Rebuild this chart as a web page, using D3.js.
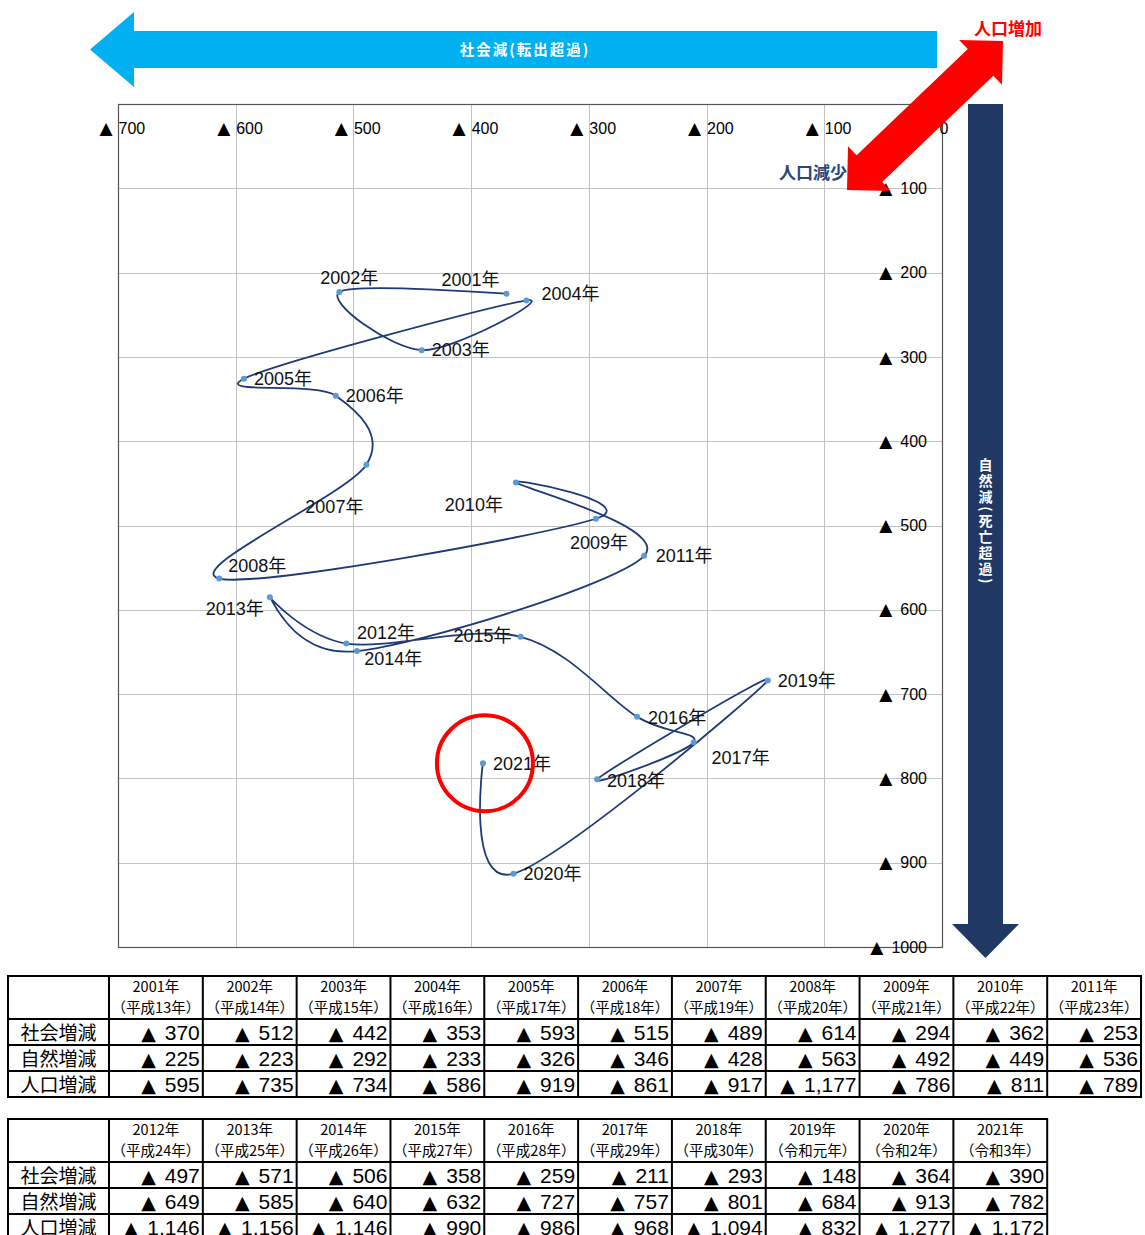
<!DOCTYPE html>
<html>
<head>
<meta charset="utf-8">
<script src="https://cdn.jsdelivr.net/npm/d3@7"></script>
<style>
  body { margin: 0; background: #fff; }
  svg { display: block; }
</style>
</head>
<body>
<svg id="chart" width="1145" height="1235"></svg>
<script>
// 年次
const years = ["2001","2002","2003","2004","2005","2006","2007","2008","2009","2010","2011",
               "2012","2013","2014","2015","2016","2017","2018","2019","2020","2021"];
// 和暦
const eras = ["平成13年","平成14年","平成15年","平成16年","平成17年","平成18年","平成19年",
              "平成20年","平成21年","平成22年","平成23年","平成24年","平成25年","平成26年",
              "平成27年","平成28年","平成29年","平成30年","令和元年","令和2年","令和3年"];
// 社会増減（転出超過数, ▲表記）
const socialChange  = [370,512,442,353,593,515,489,614,294,362,253,497,571,506,358,259,211,293,148,364,390];
// 自然増減（死亡超過数, ▲表記）
const naturalChange = [225,223,292,233,326,346,428,563,492,449,536,649,585,640,632,727,757,801,684,913,782];
// 人口増減
const totalChange   = [595,735,734,586,919,861,917,1177,786,811,789,1146,1156,1146,990,986,968,1094,832,1277,1172];

const xTickValues = [0,100,200,300,400,500,600,700];
const yTickValues = [0,100,200,300,400,500,600,700,800,900,1000];
const rowNames = ["社会増減","自然増減","人口増減"];

// 年ラベルの点からのずれ (dx, dy)
const tagOffsets = [[-36,-14],[10,-14],[39,0],[44,-7],[39,0],[39,0],[-32,42],[38,-13],[3,24],[-42,22],
                    [40,0],[29,-18],[-35,12],[47,15],[-38,-1],[40,1],[47,16],[39,1],[39,0],[39,0],[39,0]];

const svg = d3.select("#chart");
svg.append("rect").attr("width", 1145).attr("height", 1235).attr("fill", "#fff");

const plot = { left: 118, right: 942, top: 104, bottom: 947 };
const x = d3.scaleLinear().domain([0, 700]).range([plot.right, plot.left]);
const y = d3.scaleLinear().domain([0, 1000]).range([plot.top, plot.bottom]);

const latin = "'Liberation Sans', Arial, 'Noto Sans CJK JP', sans-serif";
const cjk = "'Noto Sans CJK JP', 'Liberation Sans', sans-serif";
const mark = "'DejaVu Sans', sans-serif";

// ▲ を別書体で描き、数字との間を空ける
function splitTriangle(sel, markSize, gap) {
  sel.each(function() {
    const t = d3.select(this);
    const s = t.text();
    if (s.startsWith("▲")) {
      t.text(null);
      t.append("tspan").attr("font-family", mark).attr("font-size", markSize).text("▲");
      t.append("tspan").attr("dx", gap).text(s.slice(1).trim());
    }
  });
}

// グリッド
const grid = svg.append("g").attr("stroke", "#c3c3c3").attr("stroke-width", 1);
grid.selectAll("line.v").data(xTickValues.filter(d => d > 0 && d < 700)).join("line")
  .attr("x1", d => Math.round(x(d)) + 0.5).attr("x2", d => Math.round(x(d)) + 0.5)
  .attr("y1", plot.top).attr("y2", plot.bottom);
grid.selectAll("line.h").data(yTickValues.filter(d => d > 0 && d < 1000)).join("line")
  .attr("y1", d => Math.round(y(d)) + 0.5).attr("y2", d => Math.round(y(d)) + 0.5)
  .attr("x1", plot.left).attr("x2", plot.right);

// 枠
svg.append("rect")
  .attr("x", plot.left + 0.5).attr("y", plot.top + 0.5)
  .attr("width", plot.right - plot.left).attr("height", plot.bottom - plot.top)
  .attr("fill", "none").attr("stroke", "#555").attr("stroke-width", 1.2);

const fmtTick = d => d === 0 ? "0" : "▲ " + d;

// 横軸（社会増減）目盛り
const gx = svg.append("g")
  .attr("transform", `translate(0,${plot.top + 30})`)
  .call(d3.axisTop(x).tickValues(xTickValues).tickSize(0).tickPadding(0).tickFormat(fmtTick));
gx.select(".domain").remove();
gx.selectAll("text")
  .attr("font-family", latin).attr("font-size", 16).attr("fill", "#000")
  .attr("text-anchor", "start").attr("dy", "0")
  .call(splitTriangle, 17, 6)
  .each(function(d) {
    const lead = d === 0 ? 3 : this.getSubStringLength(0, 1) + 6;
    d3.select(this).attr("x", -lead);
  });

// 縦軸（自然増減）目盛り
const gy = svg.append("g")
  .attr("transform", `translate(${plot.right - 15},0)`)
  .call(d3.axisLeft(y).tickValues(yTickValues).tickSize(0).tickPadding(0).tickFormat(fmtTick));
gy.select(".domain").remove();
gy.selectAll("text")
  .attr("font-family", latin).attr("font-size", 16).attr("fill", "#000")
  .call(splitTriangle, 17, 8);

// 推移曲線
const pts = years.map((yr, i) => ({ yr, sx: socialChange[i], ny: naturalChange[i], off: tagOffsets[i] }));
const line = d3.line()
  .x(d => x(d.sx)).y(d => y(d.ny))
  .curve(d3.curveCardinal.tension(0));
svg.append("path").datum(pts)
  .attr("d", line).attr("fill", "none")
  .attr("stroke", "#1f3a78").attr("stroke-width", 1.8);

svg.append("g").selectAll("circle").data(pts).join("circle")
  .attr("cx", d => x(d.sx)).attr("cy", d => y(d.ny)).attr("r", 3)
  .attr("fill", "#5b9bd5");

svg.append("g").selectAll("text").data(pts).join("text")
  .attr("x", d => x(d.sx) + d.off[0]).attr("y", d => y(d.ny) + d.off[1])
  .attr("dy", "0.35em").attr("text-anchor", "middle")
  .attr("font-family", latin).attr("font-size", 18).attr("fill", "#111")
  .text(d => d.yr + "年");

// 直近年の強調
const last = pts[pts.length - 1];
svg.append("circle")
  .attr("cx", x(last.sx) + 2).attr("cy", y(last.ny)).attr("r", 48)
  .attr("fill", "none").attr("stroke", "#ff0000").attr("stroke-width", 4);

// 社会減の矢印
const blueTip = 90, blueMidY = 49.5;
svg.append("path")
  .attr("d", `M${blueTip},${blueMidY} L${blueTip + 44},${blueMidY - 37.5} L${blueTip + 44},${blueMidY - 18.5}
              L${plot.right - 5},${blueMidY - 18.5} L${plot.right - 5},${blueMidY + 18.5}
              L${blueTip + 44},${blueMidY + 18.5} L${blueTip + 44},${blueMidY + 37.5} Z`)
  .attr("fill", "#00b0f0");
svg.append("text")
  .attr("x", (plot.left + plot.right) / 2 - 5).attr("y", blueMidY).attr("dy", "0.35em")
  .attr("text-anchor", "middle").attr("font-family", cjk).attr("font-weight", 700)
  .attr("font-size", 14.5).attr("letter-spacing", 2).attr("fill", "#fff")
  .text("社会減(転出超過)");

// 自然減の矢印
const navyCx = 985.5;
svg.append("path")
  .attr("d", `M${navyCx - 17.5},${plot.top} L${navyCx + 17.5},${plot.top} L${navyCx + 17.5},${plot.bottom - 23}
              L${navyCx + 33.5},${plot.bottom - 23} L${navyCx},${plot.bottom + 11}
              L${navyCx - 33.5},${plot.bottom - 23} L${navyCx - 17.5},${plot.bottom - 23} Z`)
  .attr("fill", "#203864");
// 縦書き（一文字ずつ配置、括弧は回転）
(function() {
  const chars = Array.from("自然減(死亡超過)");
  const step = 16, fs = 14;
  const widths = chars.map(c => (c === "(" || c === ")") ? 8 : step);
  const total = d3.sum(widths);
  let yy = 521 - total / 2;
  const g = svg.append("g").attr("font-family", cjk).attr("font-weight", 700)
    .attr("font-size", fs).attr("fill", "#fff").attr("text-anchor", "middle");
  chars.forEach((c, i) => {
    const cy = yy + widths[i] / 2;
    const t = g.append("text").attr("x", navyCx).attr("y", cy).attr("dy", "0.35em").text(c);
    if (c === "(" || c === ")") t.attr("transform", `rotate(90,${navyCx},${cy})`);
    yy += widths[i];
  });
})();

// 人口増加／人口減少
svg.append("text")
  .attr("x", 1008).attr("y", 29).attr("dy", "0.35em").attr("text-anchor", "middle")
  .attr("font-family", cjk).attr("font-weight", 700).attr("font-size", 17).attr("fill", "#ff0000")
  .text("人口増加");
svg.append("text")
  .attr("x", 813).attr("y", 173).attr("dy", "0.35em").attr("text-anchor", "middle")
  .attr("font-family", cjk).attr("font-weight", 700).attr("font-size", 17).attr("fill", "#2a4577")
  .text("人口減少");

// 両方向矢印
(function() {
  const a = [847, 190], b = [1003, 41];
  const cx = (a[0] + b[0]) / 2, cy = (a[1] + b[1]) / 2;
  const len = Math.hypot(b[0] - a[0], b[1] - a[1]);
  const ang = Math.atan2(b[1] - a[1], b[0] - a[0]) * 180 / Math.PI;
  const h = len / 2, hl = 31, hw = 31, sw = 18.5;
  const d = `M${-h},0 L${-h + hl},${-hw} L${-h + hl},${-sw} L${h - hl},${-sw} L${h - hl},${-hw}
             L${h},0 L${h - hl},${hw} L${h - hl},${sw} L${-h + hl},${sw} L${-h + hl},${hw} Z`;
  svg.append("path").attr("d", d)
    .attr("transform", `translate(${cx},${cy}) rotate(${ang})`)
    .attr("fill", "#ff0000");
})();

// 表
const fmtVal = v => "▲ " + d3.format(",")(v);
function drawTable(top, startIdx, count) {
  const left = 8, firstW = 101, colW = 93.82, headH = 43, rowH = 26;
  const right = left + firstW + colW * count;
  const bottom = top + headH + rowH * 3;
  const g = svg.append("g");
  const idx = d3.range(startIdx, startIdx + count);
  const colX = i => left + firstW + colW * i;

  idx.forEach((k, i) => {
    const cxm = colX(i) + colW / 2;
    g.append("text").attr("x", cxm).attr("y", top + 11).attr("dy", "0.35em")
      .attr("text-anchor", "middle").attr("font-family", cjk).attr("font-size", 14.5)
      .attr("fill", "#000").text(years[k] + "年");
    g.append("text").attr("x", cxm).attr("y", top + 32).attr("dy", "0.35em")
      .attr("text-anchor", "middle").attr("font-family", cjk).attr("font-size", 14.5)
      .attr("fill", "#000").text("（" + eras[k] + "）");
    [socialChange[k], naturalChange[k], totalChange[k]].forEach((v, r) => {
      g.append("text").attr("x", colX(i) + colW - 3).attr("y", top + headH + rowH * r + rowH / 2 + 1)
        .attr("dy", "0.35em").attr("text-anchor", "end")
        .attr("font-family", "'Liberation Sans Narrow', 'Liberation Sans', sans-serif")
        .attr("font-size", 21).attr("fill", "#000").text(fmtVal(v))
        .call(splitTriangle, 19, 9);
    });
  });
  rowNames.forEach((nm, r) => {
    g.append("text").attr("x", left + firstW / 2).attr("y", top + headH + rowH * r + rowH / 2 + 1)
      .attr("dy", "0.35em").attr("text-anchor", "middle")
      .attr("font-family", cjk).attr("font-size", 19).attr("fill", "#000").text(nm);
  });

  const lines = g.append("g").attr("stroke", "#000").attr("stroke-width", 2);
  [top + headH, top + headH + rowH, top + headH + rowH * 2].forEach(yy =>
    lines.append("line").attr("x1", left).attr("x2", right).attr("y1", yy).attr("y2", yy));
  d3.range(0, count).forEach(i =>
    lines.append("line").attr("x1", colX(i)).attr("x2", colX(i)).attr("y1", top).attr("y2", bottom));
  g.append("rect").attr("x", left).attr("y", top).attr("width", right - left).attr("height", bottom - top)
    .attr("fill", "none").attr("stroke", "#000").attr("stroke-width", 2);
}
drawTable(976, 0, 11);
drawTable(1119, 11, 10);
</script>
</body>
</html>
